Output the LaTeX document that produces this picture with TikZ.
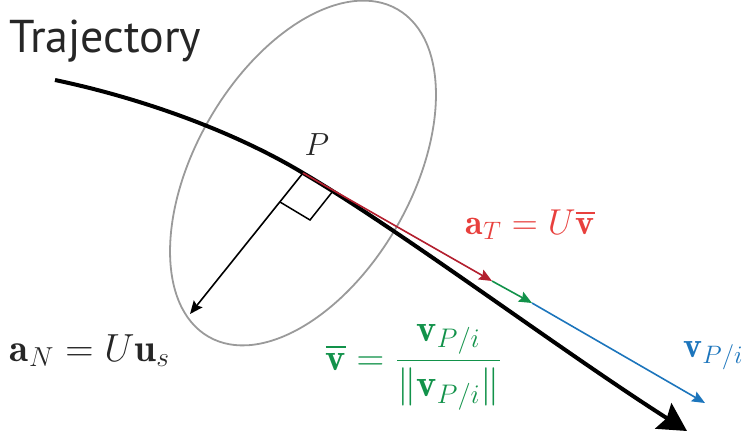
\RequirePackage{fix-cm}
\documentclass[tikz,border=0pt]{standalone}
\usepackage{amsmath}
\usepackage{fontspec}
\newfontfamily\trajfont{PT Sans}
\usetikzlibrary{arrows.meta}
\definecolor{tangred}{HTML}{B3202F}
\definecolor{labelred}{HTML}{E8403D}
\definecolor{unitgreen}{HTML}{12924A}
\definecolor{velblue}{HTML}{1C75BC}
\definecolor{ringgray}{HTML}{9A9A9A}
\tikzset{
  traj/.style={line width=2pt, -{Stealth[length=14pt,width=15pt,inset=2pt]}},
  vec/.style={line width=0.8pt, -{Stealth[length=6.5pt,width=5.5pt,inset=1pt]}},
  ring/.style={draw=ringgray, line width=0.9pt},
  lbl/.style={inner sep=0pt}
}
\begin{document}
\begin{tikzpicture}[x=0.5pt,y=-0.5pt]
  \useasboundingbox (0,0) rectangle (748,436);
  \coordinate (start) at (55,80);
  \coordinate (P) at (303,173);
  \coordinate (end) at (687,431);
  \coordinate (aTtip) at (492,281);
  \coordinate (vbartip) at (532,303);
  \coordinate (vtip) at (705,403);
  \coordinate (aNtip) at (190,314);
  % osculating plane
  \draw[ring, rotate around={60:(P)}] (P) ellipse [x radius=189, y radius=108];
  % trajectory
  \draw[traj] (start) .. controls (150,100) and (240,135) .. (P)
    .. controls (400,230) and (560,350) .. (end);
  % right angle
  \draw[line width=0.75pt] (P) ++(30,18) -- ++(-23,29) -- ++(-30,-18);
  \draw[vec] (P) -- (aNtip);
  \draw[vec, tangred] (P) -- (aTtip);
  \draw[vec, unitgreen] (aTtip) -- (vbartip);
  \draw[vec, velblue] (vbartip) -- (vtip);
  % labels
  \node[lbl, anchor=base west, text=black!85, font=\trajfont\fontsize{23}{27}\selectfont] (title) at (9,52) {Trajectory};
  \node[lbl, text=black!85, font=\fontsize{16}{19}\selectfont] (Plbl) at (317,145) {$P$};
  \node[lbl, anchor=base, text=labelred, font=\fontsize{18}{21}\selectfont] (aTlbl) at (530,234)
    {$\mathbf{a}_T = U\overline{\mathbf{v}}$};
  \node[lbl, anchor=base, text=black!85, font=\fontsize{19.6}{23}\selectfont] (aNlbl) at (90,361)
    {$\mathbf{a}_N = U\mathbf{u}_s$};
  \node[lbl, text=unitgreen, font=\fontsize{19.2}{23}\selectfont] (vbarlbl) at (414,367)
    {$\displaystyle\overline{\mathbf{v}} = \frac{\mathbf{v}_{P/i}}{\|\mathbf{v}_{P/i}\|}$};
  \node[lbl, anchor=base west, text=velblue, font=\fontsize{18}{21}\selectfont] (vlbl) at (683,357)
    {$\mathbf{v}_{P/i}$};
\end{tikzpicture}
\end{document}
